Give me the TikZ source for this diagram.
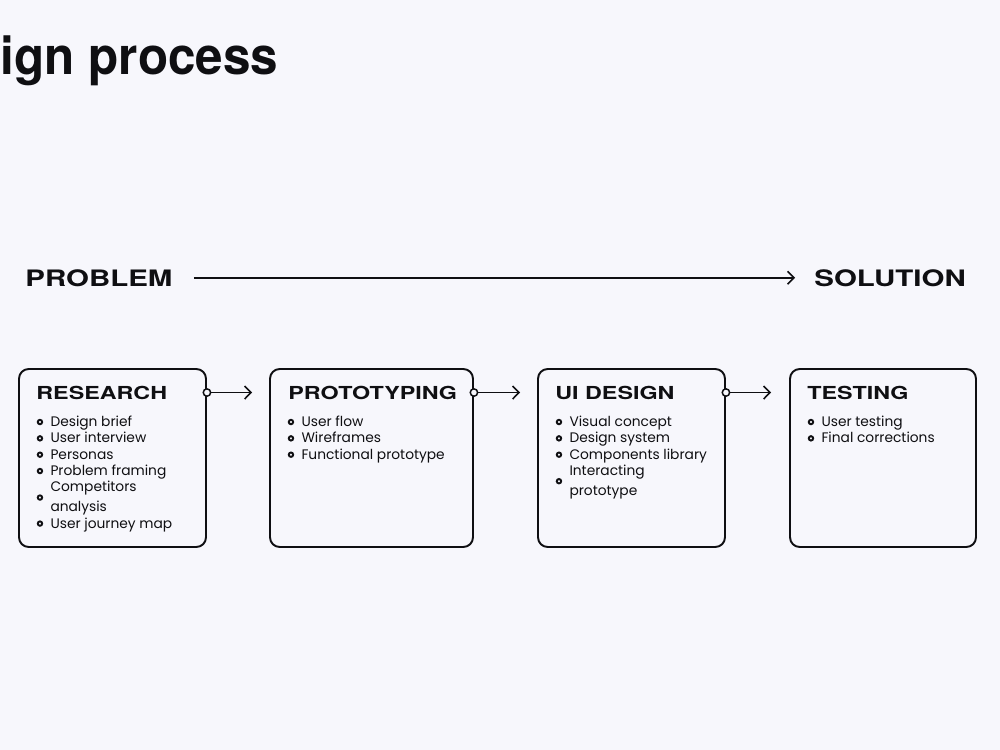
\documentclass[tikz,border=0pt]{standalone}
\usepackage{fontspec}
\usepackage{xcolor}
\usepackage{tikz}
\usetikzlibrary{positioning,arrows.meta}

\setmainfont{Poppins}
\newfontfamily\headfam[FakeStretch=1.3]{TeX Gyre Heros}
\newfontfamily\titlefam[FakeStretch=0.95]{TeX Gyre Heros}

\definecolor{pagebg}{RGB}{247,247,252}
\definecolor{ink}{RGB}{15,15,18}

\newcommand{\ringbul}{\tikz[baseline=-0.6ex]\draw[ink,line width=1.1pt] (0,0) circle (1.25pt);}
\newcommand{\twoline}[2]{\begin{tabular}[c]{@{}l@{}}#1\\[2pt]#2\end{tabular}}

\begin{document}
\begin{tikzpicture}[x=0.02cm,y=-0.02cm,
  procbox/.style={draw=ink,line width=1.1pt,rounded corners=5.5pt,fill=pagebg,
    minimum height=3.56cm,inner sep=0pt},
  head/.style={font=\headfam\bfseries\fontsize{10.2}{12}\selectfont,text=ink,
    anchor=base west,inner sep=0pt},
  bighead/.style={font=\headfam\bfseries\fontsize{12.9}{14}\selectfont,text=ink,
    anchor=base west,inner sep=0pt},
  items/.style={font=\fontsize{7.85}{9.3}\selectfont,text=ink,anchor=base west,inner sep=0pt},
  flow/.style={draw=ink,line width=0.9pt,-{Straight Barb[length=3.6pt,width=7.4pt]}},
  knob/.style={circle,draw=ink,fill=pagebg,line width=0.85pt,minimum size=4.2pt,inner sep=0pt}]
\fill[pagebg] (0,0) rectangle (1000,750);
\useasboundingbox (0,0) rectangle (1000,750);

% title at the top left
\node[font=\titlefam\bfseries\fontsize{29.6}{34}\selectfont,text=ink,anchor=base west,inner sep=0pt]
  (title) at (0.5,74) {ign process};

% problem -> solution
\node[bighead] (prob) at (25,286) {PROBLEM};
\node[bighead] (sol) at (814,286) {SOLUTION};
\draw[flow,shorten <=0.42cm,shorten >=0.38cm] (prob) -- (sol);

% the four steps
\node[procbox,minimum width=3.74cm] (research) at (112.5,458) {};
\node[procbox,minimum width=4.06cm] (proto) at (371.5,458) {};
\node[procbox,minimum width=3.74cm] (uidesign) at (631.5,458) {};
\node[procbox,minimum width=3.72cm] (testing) at (883,458) {};

\node[head] (researchT) at ([shift={(18,31)}]research.north west) {RESEARCH};
\node[head] (protoT) at ([shift={(19,31)}]proto.north west) {PROTOTYPING};
\node[head] (uidesignT) at ([shift={(18,31)}]uidesign.north west) {UI DESIGN};
\node[head] (testingT) at ([shift={(18,31)}]testing.north west) {TESTING};

\node[items] (researchL) at ([shift={(18.4,58.5)}]research.north west) {%
  \begin{tabular}[t]{@{}c@{\hspace{4.2pt}}l@{}}
  \ringbul & Design brief\\
  \ringbul & User interview\\
  \ringbul & Personas\\
  \ringbul & Problem framing\\
  \ringbul & \twoline{Competitors}{analysis}\\
  \ringbul & User journey map
  \end{tabular}};
\node[items] (protoL) at ([shift={(18.4,58.5)}]proto.north west) {%
  \begin{tabular}[t]{@{}c@{\hspace{4.2pt}}l@{}}
  \ringbul & User flow\\
  \ringbul & Wireframes\\
  \ringbul & Functional prototype
  \end{tabular}};
\node[items] (uidesignL) at ([shift={(18.4,58.5)}]uidesign.north west) {%
  \begin{tabular}[t]{@{}c@{\hspace{4.2pt}}l@{}}
  \ringbul & Visual concept\\
  \ringbul & Design system\\
  \ringbul & Components library\\
  \ringbul & \twoline{Interacting}{prototype}
  \end{tabular}};
\node[items] (testingL) at ([shift={(18.4,58.5)}]testing.north west) {%
  \begin{tabular}[t]{@{}c@{\hspace{4.2pt}}l@{}}
  \ringbul & User testing\\
  \ringbul & Final corrections
  \end{tabular}};

% connectors between the steps
\node[knob] (k1) at (research.east |- researchT) {};
\node[knob] (k2) at (proto.east |- protoT) {};
\node[knob] (k3) at (uidesign.east |- uidesignT) {};
\draw[flow,shorten >=0.34cm] (k1) -- (k1 -| proto.west);
\draw[flow,shorten >=0.34cm] (k2) -- (k2 -| uidesign.west);
\draw[flow,shorten >=0.36cm] (k3) -- (k3 -| testing.west);
\end{tikzpicture}
\end{document}
